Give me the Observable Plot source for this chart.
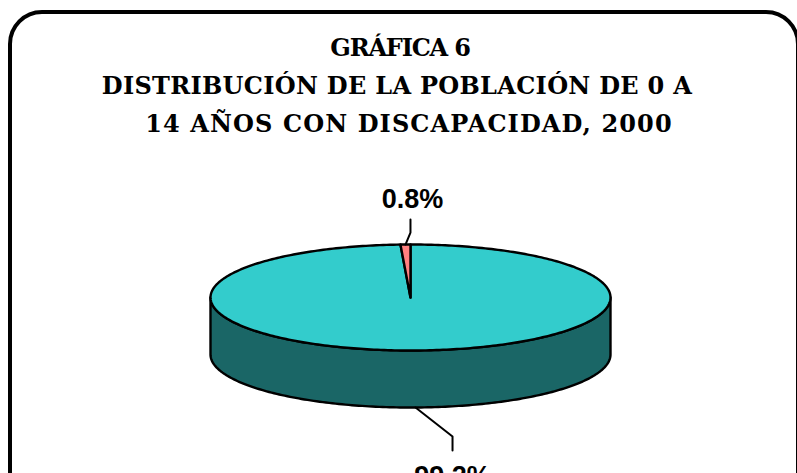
<!DOCTYPE html>
<html>
<head>
<meta charset="utf-8">
<script src="https://cdn.jsdelivr.net/npm/d3@7"></script>
<script src="https://cdn.jsdelivr.net/npm/@observablehq/plot@0.6"></script>
<style>
  html, body { margin: 0; padding: 0; background: #fff; width: 797px; height: 473px; overflow: hidden; }
  #frame { position: absolute; left: 8px; top: 10px; width: 792px; height: 520px; border: 4px solid #000; border-radius: 34px; box-sizing: border-box; }
  #title { position: absolute; left: 0; top: 0; width: 800px; text-align: center; font-family: "DejaVu Serif", serif; font-weight: bold; font-size: 24px; line-height: 38px; padding-top: 29px; color: #000; }
  #title div { white-space: nowrap; }
  #chart { position: absolute; left: 0; top: 0; }
</style>
</head>
<body>
<div id="frame"></div>
<div id="chart"></div>
<div id="title">
  <div style="letter-spacing:-1.2px">GRÁFICA 6</div>
  <div style="letter-spacing:0.3px; padding-right:6px">DISTRIBUCIÓN DE LA POBLACIÓN DE 0 A</div>
  <div style="letter-spacing:1.1px; padding-left:18px">14 AÑOS CON DISCAPACIDAD, 2000</div>
</div>
<script>
// ---- data ----
const categories = ["Sin discapacidad", "Con discapacidad"];
const values = [99.2, 0.8];
const labels = ["99.2%", "0.8%"];
const topColors = ["#33CCCC", "#FF8080"];
const sideColors = ["#1A6666", "#804040"];

// ---- layout ----
const W = 797, H = 473;
const cx = 410, cy = 297, rx = 200, ry = 53, depth = 57;
// leader: [dx to elbow, dy to elbow, dy from elbow to end, label dx, label dy from end]
const leaders = [[37, 29, 14, 0, 26], [5, -12, -13, 2, -20]];

const total = d3.sum(values);
const rad = d => d * Math.PI / 180;
const pt = (deg, dz = 0) => ({x: cx + rx * Math.sin(rad(deg)), y: cy - ry * Math.cos(rad(deg)) + dz});

let acc = 0;
const slices = values.map((v, i) => {
  const a0 = acc / total * 360;
  acc += v;
  const a1 = acc / total * 360;
  return {i, a0, a1, mid: (a0 + a1) / 2};
});

function arc(a0, a1, dz = 0) {
  const n = Math.max(2, Math.ceil((a1 - a0) / 1));
  return d3.range(n + 1).map(k => pt(a0 + (a1 - a0) * k / n, dz));
}

const marks = [];
// side walls (front half: 90..270 deg)
slices.forEach(s => {
  const b0 = Math.max(s.a0, 90), b1 = Math.min(s.a1, 270);
  if (b1 > b0) {
    const poly = [...arc(b0, b1), ...arc(b0, b1, depth).reverse()];
    poly.push(poly[0]);
    marks.push(Plot.line(poly, {x: "x", y: "y", fill: sideColors[s.i], stroke: "#000", strokeWidth: 2.4, strokeLinejoin: "round"}));
  }
});
// top faces
slices.forEach(s => {
  const poly = [{x: cx, y: cy}, ...arc(s.a0, s.a1), {x: cx, y: cy}];
  marks.push(Plot.line(poly, {x: "x", y: "y", fill: topColors[s.i], stroke: "#000", strokeWidth: 2.4, strokeLinejoin: "round"}));
});
// leaders and labels
const labelData = [];
slices.forEach(s => {
  const front = s.mid > 90 && s.mid < 270;
  const p0 = pt(s.mid, front ? depth : 0);
  const [dx, dy, dy2, lx, ly] = leaders[s.i];
  const p1 = {x: p0.x + dx, y: p0.y + dy};
  const p2 = {x: p1.x, y: p1.y + dy2};
  marks.push(Plot.line([p0, p1, p2], {x: "x", y: "y", stroke: "#000", strokeWidth: 2}));
  labelData.push({x: p2.x + lx, y: p2.y + ly, text: labels[s.i]});
});
marks.push(Plot.text(labelData, {x: "x", y: "y", text: "text", fontSize: 27, fontWeight: "bold", fontFamily: "Liberation Sans, Arial, sans-serif", fill: "#000"}));

const chart = Plot.plot({
  width: W, height: H, margin: 0,
  x: {domain: [0, W], range: [0, W]},
  y: {domain: [0, H], range: [0, H]},
  axis: null,
  style: {background: "transparent", overflow: "visible"},
  marks
});
document.getElementById("chart").appendChild(chart);
</script>
</body>
</html>
